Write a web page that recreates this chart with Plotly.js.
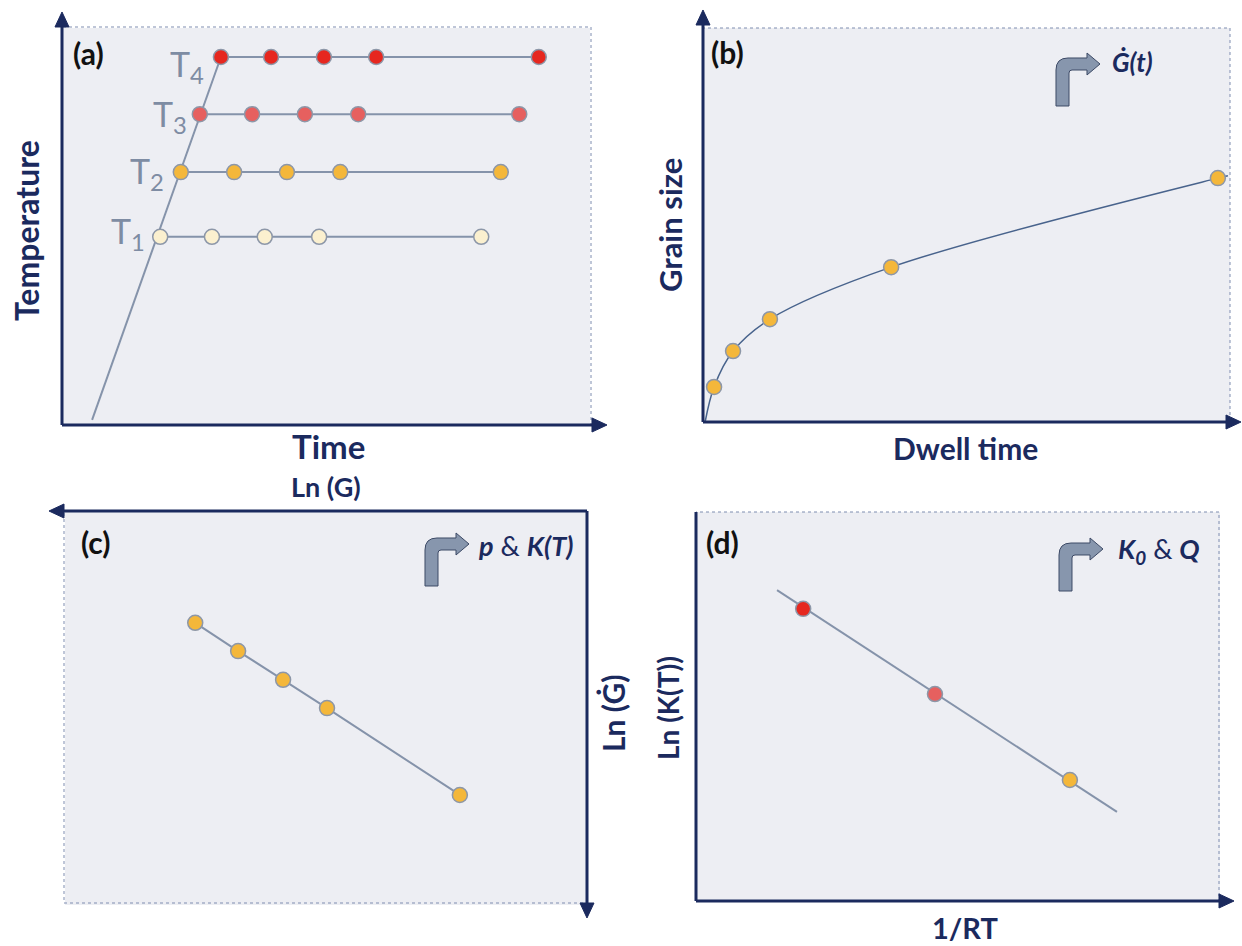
<!DOCTYPE html>
<html>
<head>
<meta charset="utf-8">
<script src="https://cdn.plot.ly/plotly-3.0.1.min.js"></script>
<style>html,body{margin:0;padding:0;background:#fff;}#chart{width:1242px;height:946px;}</style>
</head>
<body>
<div id="chart"></div>
<script>
// ---------- data (arbitrary units 0-100 on each panel) ----------
// Panel (a): heating ramp and isothermal holds
const rampTime = [5.7, 30.1];
const rampTemp = [1.3, 92.7];
const holdTemps = [47.4, 63.7, 78.3, 92.7];
const holdLabels = ['T<sub>1</sub>', 'T<sub>2</sub>', 'T<sub>3</sub>', 'T<sub>4</sub>'];
const t1Times = [18.6, 28.4, 38.4, 48.7, 79.4];
const t2Times = [22.5, 32.6, 42.6, 52.7, 83.1];
const t3Times = [26.1, 36.0, 46.0, 56.1, 86.6];
const t4Times = [30.1, 39.6, 49.6, 59.5, 90.3];
const holdColors = ['#fbf0cf', '#f4b73a', '#e6605f', '#e6271f'];

// Panel (b): grain size vs dwell time
const dwellTime = [2.1, 5.7, 12.7, 35.7, 97.7];
const grainSize = [8.9, 18.0, 26.1, 39.3, 61.9];
const curveTime = [0.4, 2.1, 5.7, 12.7, 35.7, 97.7, 99.6];
const curveSize = [0.0, 8.9, 18.0, 26.1, 39.3, 61.9, 62.5];

// Panel (c): Ln(G-dot) vs Ln(G)
const lnG = [75.1, 66.9, 58.3, 49.9, 24.5];
const lnGdot = [28.2, 35.4, 42.7, 49.9, 72.0];

// Panel (d): Ln(K(T)) vs 1/RT
const invRT = [20.3, 45.5, 71.3];
const lnK = [75.1, 53.2, 31.1];
const fitInvRT = [15.3, 80.3];
const fitLnK = [79.9, 22.9];
const arrheniusColors = ['#e6271f', '#e6605f', '#f4b73a'];

// ---------- helpers ----------
const W = 1242, H = 946;
const PX = x => x / W;
const PY = y => 1 - y / H;
const NAVY = '#1b2a5e';
const LINEC = '#8593aa';
const MARK_LINE = {color: '#8d97a8', width: 1.5};
const FONT = 'Lato, "Open Sans", sans-serif';

function dom(x0, x1, y0, y1) { return {x: [PX(x0), PX(x1)], y: [PY(y1), PY(y0)]}; }
const dA = dom(62, 590, 28, 425);
const dB = dom(703, 1230, 28, 422);
const dC = dom(65, 588, 512, 905);
const dD = dom(697, 1220, 512, 901);

function ax(domain, range, extra) {
  return Object.assign({domain: domain, range: range, showgrid: false, zeroline: false,
    showticklabels: false, ticks: '', showline: false, fixedrange: true}, extra || {});
}

function pth(points) {
  return 'M' + points.map(p => PX(p[0]).toFixed(5) + ',' + PY(p[1]).toFixed(5)).join(' L') + ' Z';
}
function head(tx, ty, dir) {
  const L = 15, h = 7;
  if (dir === 'up') return pth([[tx, ty], [tx - h, ty + L], [tx + h, ty + L]]);
  if (dir === 'down') return pth([[tx, ty], [tx - h, ty - L], [tx + h, ty - L]]);
  if (dir === 'left') return pth([[tx, ty], [tx + L, ty - h], [tx + L, ty + h]]);
  return pth([[tx, ty], [tx - L, ty - h], [tx - L, ty + h]]);
}
function P(x, y) { return PX(x).toFixed(5) + ',' + PY(y).toFixed(5); }
function bent(sx, by) {
  const w = 13, t = 12, r = 12, hb = sx + 31, tip = sx + 44, hh = 11, bot = by + 48, c = by + t / 2;
  return 'M' + P(sx, bot) + ' L' + P(sx, by + r) + ' Q' + P(sx, by) + ' ' + P(sx + r, by) +
    ' L' + P(hb, by) + ' L' + P(hb, c - hh) + ' L' + P(tip, c) + ' L' + P(hb, c + hh) +
    ' L' + P(hb, by + t) + ' L' + P(sx + w + 3, by + t) + ' Q' + P(sx + w, by + t) + ' ' + P(sx + w, by + t + 3) +
    ' L' + P(sx + w, bot) + ' Z';
}

const shapes = [];
function border(x0, y0, x1, y1) {
  shapes.push({type: 'rect', xref: 'paper', yref: 'paper', x0: PX(x0), x1: PX(x1), y0: PY(y1), y1: PY(y0),
    line: {color: '#7f8db0', width: 1, dash: 'dot'}, layer: 'above'});
}
function aline(x0, y0, x1, y1) {
  shapes.push({type: 'line', xref: 'paper', yref: 'paper', x0: PX(x0), x1: PX(x1), y0: PY(y0), y1: PY(y1),
    line: {color: NAVY, width: 3}, layer: 'above'});
}
function ahead(tx, ty, dir) {
  shapes.push({type: 'path', xref: 'paper', yref: 'paper', path: head(tx, ty, dir),
    fillcolor: NAVY, line: {color: NAVY, width: 1}, layer: 'above'});
}
function icon(sx, by) {
  shapes.push({type: 'path', xref: 'paper', yref: 'paper', path: bent(sx, by),
    fillcolor: '#8796ad', line: {color: '#3d4a66', width: 1}, layer: 'above'});
}

// panel borders
border(62, 27, 591, 425);
border(703, 28, 1230, 422);
border(64, 511, 587, 903);
border(696, 512, 1219, 901);
// axes with arrows
aline(62, 425, 62, 26); ahead(62, 12, 'up');
aline(62, 425, 593, 425); ahead(607, 425, 'right');
aline(703, 422, 703, 24); ahead(703, 10, 'up');
aline(703, 422, 1227, 422); ahead(1241, 422, 'right');
aline(587, 511, 63, 511); ahead(49, 511, 'left');
aline(587, 511, 587, 904); ahead(587, 918, 'down');
aline(696, 512, 696, 901);
aline(696, 901, 1220, 901); ahead(1234, 901, 'right');
// icons
icon(1056, 58);
icon(425, 538);
icon(1059, 543);

// ---------- traces ----------
const traces = [];
// panel a
traces.push({x: rampTime, y: rampTemp, xaxis: 'x', yaxis: 'y', mode: 'lines', line: {color: LINEC, width: 2}, hoverinfo: 'skip'});
[t1Times, t2Times, t3Times, t4Times].forEach((ts, i) => {
  traces.push({x: ts, y: ts.map(() => holdTemps[i]), xaxis: 'x', yaxis: 'y', mode: 'lines+markers',
    line: {color: LINEC, width: 2}, marker: {size: 15, color: holdColors[i], line: MARK_LINE}});
});
// panel b
traces.push({x: curveTime, y: curveSize, xaxis: 'x2', yaxis: 'y2', mode: 'lines',
  line: {color: '#48638c', width: 1.5, shape: 'spline', smoothing: 1}, hoverinfo: 'skip'});
traces.push({x: dwellTime, y: grainSize, xaxis: 'x2', yaxis: 'y2', mode: 'markers',
  marker: {size: 15, color: '#f4b73a', line: MARK_LINE}});
// panel c
traces.push({x: lnG, y: lnGdot, xaxis: 'x3', yaxis: 'y3', mode: 'lines+markers',
  line: {color: LINEC, width: 2}, marker: {size: 15, color: '#f4b73a', line: MARK_LINE}});
// panel d
traces.push({x: fitInvRT, y: fitLnK, xaxis: 'x4', yaxis: 'y4', mode: 'lines', line: {color: LINEC, width: 2}, hoverinfo: 'skip'});
traces.push({x: invRT, y: lnK, xaxis: 'x4', yaxis: 'y4', mode: 'markers',
  marker: {size: 15, color: arrheniusColors, line: MARK_LINE}});

// ---------- annotations ----------
const ann = [];
function txt(text, x, y, size, opts) {
  ann.push(Object.assign({text: text, xref: 'paper', yref: 'paper', x: PX(x), y: PY(y), showarrow: false,
    xanchor: 'center', yanchor: 'middle', font: {family: FONT, size: size, color: NAVY}}, opts || {}));
}
const BLK = s => ({family: FONT, size: s, color: '#111'});
// panel letters
txt('<b>(a)</b>', 88, 53, 30, {font: BLK(30)});
txt('<b>(b)</b>', 727, 52, 30, {font: BLK(30)});
txt('<b>(c)</b>', 96, 542, 30, {font: BLK(30)});
txt('<b>(d)</b>', 722, 542, 30, {font: BLK(30)});
// T labels
const tPos = [[147, 233], [166, 173], [189, 116], [206, 66]];
holdLabels.forEach((lab, i) => {
  txt(lab, tPos[i][0], tPos[i][1], 34, {xanchor: 'right', font: {family: FONT, size: 34, color: '#7e8ca3'}});
});
// axis titles
txt('<b>Temperature</b>', 26, 231, 32, {textangle: -90});
txt('<b>Time</b>', 328, 446, 33);
txt('<b>Ln (G)</b>', 326, 487, 27);
txt('<b>Grain size</b>', 670, 225, 31, {textangle: -90});
txt('<b>Dwell time</b>', 965, 448, 30);
txt('<b>Ln (Ġ)</b>', 613, 714, 30, {textangle: -90});
txt('<b>Ln (K(T))</b>', 668, 708, 28, {textangle: -90});
txt('<b>1/RT</b>', 965, 927, 29);
// icon labels
txt('<b><i>Ġ(t)</i></b>', 1110, 62, 26, {xanchor: 'left'});
txt('<b><i>p</i></b> & <b><i>K(T)</i></b>', 476, 545, 27, {xanchor: 'left'});
txt('<b><i>K<sub>0</sub></i></b> & <b><i>Q</i></b>', 1116, 550, 27, {xanchor: 'left'});

const layout = {
  width: W, height: H, margin: {l: 0, r: 0, t: 0, b: 0},
  paper_bgcolor: '#ffffff', plot_bgcolor: '#edeef3', showlegend: false,
  xaxis: ax(dA.x, [0, 100]), yaxis: ax(dA.y, [0, 100]),
  xaxis2: ax(dB.x, [0, 100]), yaxis2: ax(dB.y, [0, 100]),
  xaxis3: ax(dC.x, [100, 0], {side: 'top'}), yaxis3: ax(dC.y, [100, 0], {side: 'right'}),
  xaxis4: ax(dD.x, [0, 100]), yaxis4: ax(dD.y, [0, 100]),
  shapes: shapes, annotations: ann
};
Plotly.newPlot('chart', traces, layout, {staticPlot: true, displayModeBar: false});
</script>
</body>
</html>
